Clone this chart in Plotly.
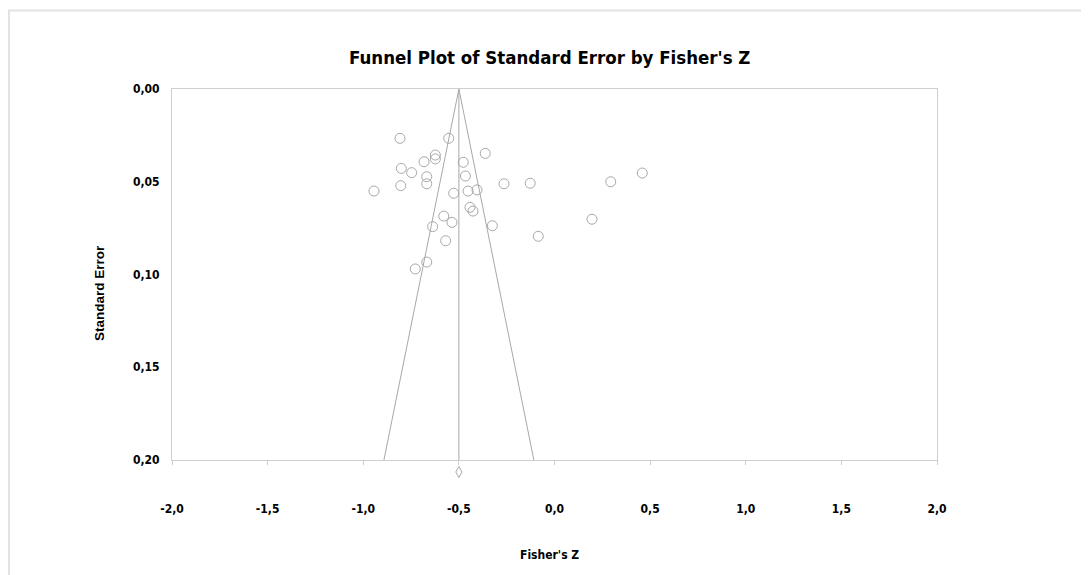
import plotly.graph_objects as go

# Study-level data: Fisher's Z and standard error
fisher_z = [-0.808, -0.553, -0.362, -0.623, -0.623, -0.682, -0.477, -0.801,
            -0.747, -0.466, -0.668, -0.668, -0.804, -0.264, -0.127, 0.294,
            0.459, -0.944, -0.527, -0.452, -0.405, -0.442, -0.426, 0.196,
            -0.579, -0.536, -0.637, -0.325, -0.085, -0.569, -0.668, -0.728]
std_err = [0.0266, 0.0266, 0.0347, 0.0356, 0.0377, 0.0392, 0.0395, 0.0428,
           0.0451, 0.0469, 0.0473, 0.0511, 0.0521, 0.0511, 0.0508, 0.0500,
           0.0453, 0.0550, 0.0562, 0.0550, 0.0544, 0.0638, 0.0658, 0.0702,
           0.0685, 0.0719, 0.0742, 0.0737, 0.0794, 0.0818, 0.0933, 0.0970]

summary_z = -0.5
summary_ci_halfwidth = 0.016
se_max = 0.20

x_ticks = [-2.0, -1.5, -1.0, -0.5, 0.0, 0.5, 1.0, 1.5, 2.0]
y_ticks = [0.00, 0.05, 0.10, 0.15, 0.20]
x_ticktext = [f"{v:.1f}".replace(".", ",") for v in x_ticks]
y_ticktext = [f"{v:.2f}".replace(".", ",") for v in y_ticks]

FONT = "DejaVu Sans Condensed, Liberation Sans Narrow, Arial Narrow, Liberation Sans, sans-serif"
GREY = "#a8a8a8"

OFF = 8  # page body margin
W, H = 1089 - OFF, 575 - OFF
L, T = 172 - OFF, 89 - OFF
R = W - (937 - OFF)
B = H - (460 - OFF)
pw, ph = W - L - R, H - T - B

def px2paper_x(px):
    return (px - OFF - L) / pw

def py2paper_y(py):
    return (H - B - (py - OFF)) / ph

fig = go.Figure()

# Funnel (95% pseudo-confidence limits)
fig.add_trace(go.Scatter(
    x=[summary_z - 1.96 * se_max, summary_z, summary_z + 1.96 * se_max],
    y=[se_max, 0, se_max],
    mode="lines", line=dict(color=GREY, width=1), hoverinfo="skip"))
# Vertical line at summary effect
fig.add_trace(go.Scatter(
    x=[summary_z, summary_z], y=[0, se_max],
    mode="lines", line=dict(color=GREY, width=1), hoverinfo="skip"))
# Studies
fig.add_trace(go.Scatter(
    x=fisher_z, y=std_err, mode="markers",
    marker=dict(symbol="circle-open", size=10, color=GREY, line=dict(width=1))))

# Summary diamond below the axis (x in data units, y in paper units)
yc = py2paper_y(472)
hh = 5.5 / ph
dpath = (f"M {summary_z - summary_ci_halfwidth},{yc} L {summary_z},{yc + hh} "
         f"L {summary_z + summary_ci_halfwidth},{yc} L {summary_z},{yc - hh} Z")

fig.update_layout(
    width=W, height=H,
    margin=dict(l=L, r=R, t=T, b=B),
    paper_bgcolor="white", plot_bgcolor="white",
    showlegend=False,
    font=dict(family=FONT, color="black"),
    xaxis=dict(range=[-2, 2], tickvals=x_ticks, ticktext=x_ticktext,
               showgrid=False, zeroline=False, showline=True, linecolor="#cfcfcf",
               linewidth=1, mirror=True, ticks="outside", ticklen=4, tickcolor="#cfcfcf",
               ticklabelstandoff=34,
               tickfont=dict(family=FONT, size=12, color="black", weight="bold")),
    yaxis=dict(range=[se_max, 0], tickvals=y_ticks, ticktext=y_ticktext,
               showgrid=False, zeroline=False, showline=True, linecolor="#cfcfcf",
               linewidth=1, mirror=True, ticks="", ticklabelstandoff=9,
               tickfont=dict(family=FONT, size=12, color="black", weight="bold")),
    annotations=[
        dict(text="<b>Funnel Plot of Standard Error by Fisher's Z</b>", xref="paper", yref="paper",
             x=px2paper_x(549), y=py2paper_y(57), xanchor="center", yanchor="middle",
             showarrow=False, font=dict(family=FONT, size=18.5, color="black")),
        dict(text="<b>Fisher's Z</b>", xref="paper", yref="paper",
             x=px2paper_x(549), y=py2paper_y(555), xanchor="center", yanchor="middle",
             showarrow=False, font=dict(family=FONT, size=12, color="black")),
        dict(text="<b>Standard Error</b>", xref="paper", yref="paper", textangle=-90,
             x=px2paper_x(99), y=py2paper_y(293), xanchor="center", yanchor="middle",
             showarrow=False,
             font=dict(family="Liberation Sans, Arial, sans-serif", size=13.5, color="black")),
    ],
    shapes=[
        dict(type="path", xref="x", yref="paper", path=dpath,
             line=dict(color=GREY, width=1), fillcolor="rgba(0,0,0,0)"),
        dict(type="line", xref="paper", yref="paper",
             x0=px2paper_x(8), x1=px2paper_x(1095), y0=py2paper_y(10.5), y1=py2paper_y(10.5),
             line=dict(color="#e2e2e2", width=2)),
        dict(type="line", xref="paper", yref="paper",
             x0=px2paper_x(9), x1=px2paper_x(9), y0=py2paper_y(10.5), y1=py2paper_y(580),
             line=dict(color="#e2e2e2", width=2)),
    ],
)

fig.write_html("out.html")
